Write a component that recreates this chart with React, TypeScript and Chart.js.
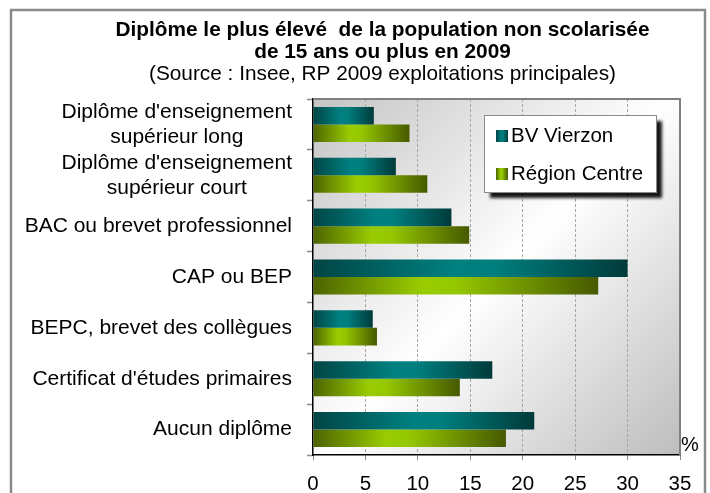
import { useEffect, useRef } from 'react';
import { Chart, registerables } from 'chart.js';

Chart.register(...registerables);

const categories: string[][] = [
  ["Diplôme d'enseignement", 'supérieur long'],
  ["Diplôme d'enseignement", 'supérieur court'],
  ['BAC ou brevet professionnel'],
  ['CAP ou BEP'],
  ['BEPC, brevet des collègues'],
  ["Certificat d'études primaires"],
  ['Aucun diplôme'],
];
const seriesNames = ['BV Vierzon', 'Région Centre'];
const bvVierzon = [5.8, 7.9, 13.2, 30.0, 5.7, 17.1, 21.1];
const regionCentre = [9.2, 10.9, 14.9, 27.2, 6.1, 14.0, 18.4];
const xMin = 0;
const xMax = 35;
const xStep = 5;
const titleLines = ['Diplôme le plus élevé  de la population non scolarisée', 'de 15 ans ou plus en 2009'];
const subtitleText = '(Source : Insee, RP 2009 exploitations principales)';
const unitLabel = '%';

const FONT = "Arial, 'Liberation Sans', sans-serif";

type Stop = [number, string];
const tealStops: Stop[] = [[0, '#014545'], [0.45, '#008080'], [0.58, '#007e7e'], [1, '#013a3a']];
const oliveStops: Stop[] = [[0, '#4c6300'], [0.38, '#99cc00'], [0.5, '#95c700'], [1, '#465900']];

function barGradient(stops: Stop[]) {
  return (c: any) => {
    const chart = c.chart;
    const xs = chart.scales && chart.scales.x;
    if (!xs || c.type !== 'data' || !chart.chartArea) return stops[1][1];
    const x0 = xs.getPixelForValue(0);
    const x1 = xs.getPixelForValue(c.raw);
    if (!isFinite(x0) || !isFinite(x1) || x1 === x0) return stops[1][1];
    const g = chart.ctx.createLinearGradient(x0, 0, x1, 0);
    stops.forEach(([o, col]) => g.addColorStop(o, col));
    return g;
  };
}

const decor = {
  id: 'decor',
  beforeDraw(chart: any) {
    const { ctx, chartArea: a } = chart;
    ctx.save();
    ctx.strokeStyle = '#8a8a8a';
    ctx.lineWidth = 2.5;
    ctx.strokeRect(11, 10, 694, 530);
    const g = ctx.createLinearGradient(a.left, a.top, a.right, a.bottom);
    g.addColorStop(0, '#c4c4c4');
    g.addColorStop(0.5, '#ffffff');
    g.addColorStop(1, '#bdbdbd');
    ctx.fillStyle = g;
    ctx.fillRect(a.left, a.top, a.right - a.left, a.bottom - a.top);
    ctx.restore();
  },
  afterDraw(chart: any) {
    const { ctx, chartArea: a } = chart;
    ctx.save();
    // plot area top & right border
    ctx.strokeStyle = '#808080';
    ctx.lineWidth = 2;
    ctx.beginPath();
    ctx.moveTo(a.left, a.top);
    ctx.lineTo(a.right, a.top);
    ctx.lineTo(a.right, a.bottom);
    ctx.stroke();

    // category labels
    const ys = chart.scales.y;
    ctx.font = `21px ${FONT}`;
    ctx.fillStyle = '#000';
    ctx.textBaseline = 'middle';
    ctx.textAlign = 'center';
    const labels = chart.data.labels as string[][];
    const right = a.left - 21;
    const lh = 25;
    labels.forEach((lines, i) => {
      const y = ys.getPixelForTick(i);
      const w = Math.max(...lines.map((l) => ctx.measureText(l).width));
      const cx = right - w / 2;
      lines.forEach((l, j) => ctx.fillText(l, cx, y + (j - (lines.length - 1) / 2) * lh));
    });

    // unit label
    ctx.font = `20px ${FONT}`;
    ctx.textAlign = 'left';
    ctx.fillText(unitLabel, a.right + 1, a.bottom - 10);

    // legend
    const lx = a.right - 196;
    const ly = a.top + 16;
    const lw = 172;
    const lhgt = 77;
    ctx.save();
    ctx.shadowColor = 'rgba(0,0,0,0.9)';
    ctx.shadowBlur = 3;
    ctx.shadowOffsetX = 6;
    ctx.shadowOffsetY = 6;
    ctx.fillStyle = '#ffffff';
    ctx.fillRect(lx, ly, lw, lhgt);
    ctx.restore();
    ctx.strokeStyle = '#8a8a8a';
    ctx.lineWidth = 1;
    ctx.strokeRect(lx + 0.5, ly + 0.5, lw, lhgt);
    const sets = chart.data.datasets;
    const stopsList = [tealStops, oliveStops];
    sets.forEach((ds: any, i: number) => {
      const my = ly + 15 + i * 38;
      const mx = lx + 12;
      const g = ctx.createLinearGradient(mx, 0, mx + 12, 0);
      stopsList[i].forEach(([o, col]) => g.addColorStop(o, col));
      ctx.fillStyle = g;
      ctx.fillRect(mx, my, 12, 12);
      ctx.fillStyle = '#000';
      ctx.font = `20.5px ${FONT}`;
      ctx.textBaseline = 'middle';
      ctx.fillText(ds.label, mx + 15, my + 6);
    });
    ctx.restore();
  },
};

export default function App() {
  const ref = useRef<HTMLCanvasElement | null>(null);
  useEffect(() => {
    if (!ref.current) return;
    const chart = new Chart(ref.current, {
      type: 'bar',
      data: {
        labels: categories as any,
        datasets: [
          {
            label: seriesNames[0],
            data: bvVierzon,
            backgroundColor: barGradient(tealStops) as any,
            borderWidth: 0,
            categoryPercentage: 0.69,
            barPercentage: 1,
          },
          {
            label: seriesNames[1],
            data: regionCentre,
            backgroundColor: barGradient(oliveStops) as any,
            borderWidth: 0,
            categoryPercentage: 0.69,
            barPercentage: 1,
          },
        ],
      },
      options: {
        indexAxis: 'y',
        responsive: false,
        animation: false,
        devicePixelRatio: 1,
        layout: { padding: { left: 85, right: 30, top: 0, bottom: 0 } },
        scales: {
          y: {
            type: 'category',
            offset: true,
            afterFit: (s: any) => {
              s.width = 228;
            },
            ticks: { display: false },
            grid: {
              offset: true,
              drawOnChartArea: false,
              drawTicks: true,
              tickLength: 6,
              color: '#8a8a8a',
              tickColor: '#8a8a8a',
              tickWidth: 1.5,
            },
            border: { display: true, color: '#000', width: 1.5 },
          },
          x: {
            type: 'linear',
            min: xMin,
            max: xMax,
            afterFit: (s: any) => {
              s.height = 38;
            },
            ticks: {
              stepSize: xStep,
              color: '#000',
              font: { family: FONT, size: 20.5 },
              padding: 12,
            },
            grid: {
              color: (c: any) =>
                c.tick && (c.tick.value === xMin || c.tick.value === xMax) ? 'rgba(0,0,0,0)' : '#a6a6a6',
              lineWidth: 1,
              tickLength: 5,
              tickColor: '#8a8a8a',
              tickBorderDash: [],
            },
            border: { display: true, color: '#000', width: 1.5, dash: [3, 2] },
          },
        },
        plugins: {
          legend: { display: false },
          tooltip: { enabled: false },
          title: {
            display: true,
            text: titleLines,
            color: '#000',
            font: { family: FONT, size: 20.8, weight: 'bold', lineHeight: '22px' },
            padding: { top: 19, bottom: 0 },
          },
          subtitle: {
            display: true,
            text: subtitleText,
            color: '#000',
            font: { family: FONT, size: 20.8, lineHeight: '22px' },
            padding: { top: 0, bottom: 14 },
          },
        },
      },
      plugins: [decor],
    });
    return () => chart.destroy();
  }, []);
  return (
    <div style={{ position: 'absolute', left: 0, top: 0, width: 710, height: 493, background: '#fff' }}>
      <canvas ref={ref} width={710} height={493} />
    </div>
  );
}
